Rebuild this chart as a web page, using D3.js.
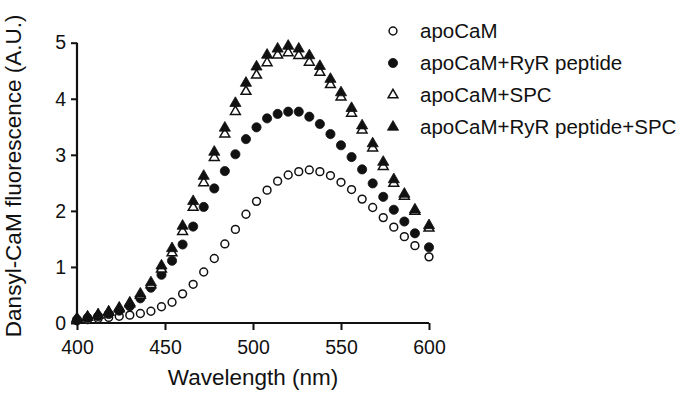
<!DOCTYPE html>
<html>
<head>
<meta charset="utf-8">
<script src="https://cdn.jsdelivr.net/npm/d3@7"></script>
<style>
  body { margin: 0; background: #fff; }
  svg { display: block; font-family: "Liberation Sans", Arial, sans-serif; }
</style>
</head>
<body>
<div id="chart"></div>
<script>
const wavelengths = [400, 406, 412, 418, 424, 430, 436, 442, 448, 454, 460, 466, 472, 478, 484, 490, 496,
  502, 508, 514, 520, 526, 532, 538, 544, 550, 556, 562, 568, 574, 580, 586, 592, 600];

const apoCaM = [0.04, 0.06, 0.08, 0.10, 0.12, 0.14, 0.17, 0.21, 0.29, 0.37, 0.52, 0.69, 0.91, 1.15, 1.41, 1.67, 1.94,
  2.17, 2.37, 2.53, 2.64, 2.70, 2.73, 2.70, 2.63, 2.51, 2.38, 2.21, 2.06, 1.88, 1.71, 1.54, 1.38, 1.18];

const apoCaMRyR = [0.06, 0.09, 0.12, 0.16, 0.22, 0.30, 0.44, 0.63, 0.86, 1.11, 1.40, 1.72, 2.07, 2.40, 2.71, 3.01, 3.28,
  3.49, 3.65, 3.73, 3.77, 3.77, 3.68, 3.55, 3.37, 3.17, 2.96, 2.74, 2.49, 2.25, 2.02, 1.81, 1.60, 1.35];

const apoCaMSPC = [0.07, 0.10, 0.14, 0.19, 0.25, 0.34, 0.49, 0.68, 0.96, 1.25, 1.63, 2.06, 2.50, 2.95, 3.37, 3.77, 4.13,
  4.42, 4.64, 4.78, 4.82, 4.77, 4.65, 4.47, 4.25, 4.03, 3.74, 3.44, 3.12, 2.79, 2.49, 2.26, 1.99, 1.69];

const apoCaMRyRSPC = [0.08, 0.11, 0.15, 0.20, 0.27, 0.36, 0.52, 0.72, 1.02, 1.33, 1.73, 2.17, 2.62, 3.05, 3.48, 3.92, 4.28,
  4.57, 4.78, 4.89, 4.94, 4.89, 4.77, 4.58, 4.35, 4.11, 3.83, 3.52, 3.20, 2.87, 2.56, 2.30, 2.02, 1.74];

const seriesNames = ['apoCaM', 'apoCaM+RyR peptide', 'apoCaM+SPC', 'apoCaM+RyR peptide+SPC'];
const xTicks = [400, 450, 500, 550, 600];
const yTicks = [0, 1, 2, 3, 4, 5];

const series = [
  { name: seriesNames[0], values: apoCaM, shape: d3.symbolCircle, size: 48, filled: false },
  { name: seriesNames[1], values: apoCaMRyR, shape: d3.symbolCircle, size: 66, filled: true },
  { name: seriesNames[2], values: apoCaMSPC, shape: d3.symbolTriangle, size: 42, filled: false },
  { name: seriesNames[3], values: apoCaMRyRSPC, shape: d3.symbolTriangle, size: 54, filled: true }
];

const width = 681;
const height = 393;

const svg = d3.select('#chart')
  .append('svg')
  .attr('width', width)
  .attr('height', height);

const x = d3.scaleLinear().domain([400, 600]).range([77, 429]);
const y = d3.scaleLinear().domain([0, 5]).range([323, 42.7]);

// axes
const xAxis = svg.append('g')
  .attr('transform', `translate(0, ${y(0)})`)
  .call(d3.axisBottom(x).tickValues(xTicks).tickFormat(d3.format('d')).tickSize(7).tickPadding(10));

const yAxis = svg.append('g')
  .attr('transform', `translate(${x(400)}, 0)`)
  .call(d3.axisLeft(y).tickValues(yTicks).tickFormat(d3.format('d')).tickSize(6).tickPadding(5));

[xAxis, yAxis].forEach(g => {
  g.select('.domain').attr('stroke', '#111').attr('stroke-width', 2.2);
  g.selectAll('.tick line').attr('stroke', '#111').attr('stroke-width', 2);
  g.selectAll('.tick text')
    .attr('fill', '#111')
    .style('font-size', '19.5px')
    .style('font-family', '"Liberation Sans", Arial, sans-serif');
});
xAxis.select('.domain').attr('d', `M${x(400)},0H${x(600)}`);
yAxis.select('.domain').attr('d', `M0,${y(5)}V${y(0)}`);

// axis titles
svg.append('text')
  .attr('x', (x(400) + x(600)) / 2)
  .attr('y', 385)
  .attr('text-anchor', 'middle')
  .attr('fill', '#111')
  .style('font-size', '22.5px')
  .text('Wavelength (nm)');

svg.append('text')
  .attr('transform', `translate(21, ${(y(0) + y(5)) / 2 - 7}) rotate(-90)`)
  .attr('text-anchor', 'middle')
  .attr('fill', '#111')
  .style('font-size', '22.5px')
  .text('Dansyl-CaM fluorescence (A.U.)');

// points
series.forEach(s => {
  const sym = d3.symbol().type(s.shape).size(s.size);
  svg.append('g')
    .selectAll('path')
    .data(s.values.map((v, i) => ({ wl: wavelengths[i], v })))
    .enter()
    .append('path')
    .attr('d', sym)
    .attr('transform', d => `translate(${x(d.wl)}, ${y(d.v)})`)
    .attr('fill', s.filled ? '#111' : '#fff')
    .attr('stroke', '#111')
    .attr('stroke-width', s.filled ? 0.8 : 1.5);
});

// legend
const legend = svg.append('g');
series.forEach((s, i) => {
  const ly = 31 + i * 32;
  legend.append('path')
    .attr('d', d3.symbol().type(s.shape).size(s.size))
    .attr('transform', `translate(393, ${ly})`)
    .attr('fill', s.filled ? '#111' : '#fff')
    .attr('stroke', '#111')
    .attr('stroke-width', s.filled ? 0.8 : 1.5);
  legend.append('text')
    .attr('x', 420)
    .attr('y', ly)
    .attr('dy', '0.36em')
    .attr('fill', '#111')
    .style('font-size', '20.5px')
    .text(s.name);
});
</script>
</body>
</html>
